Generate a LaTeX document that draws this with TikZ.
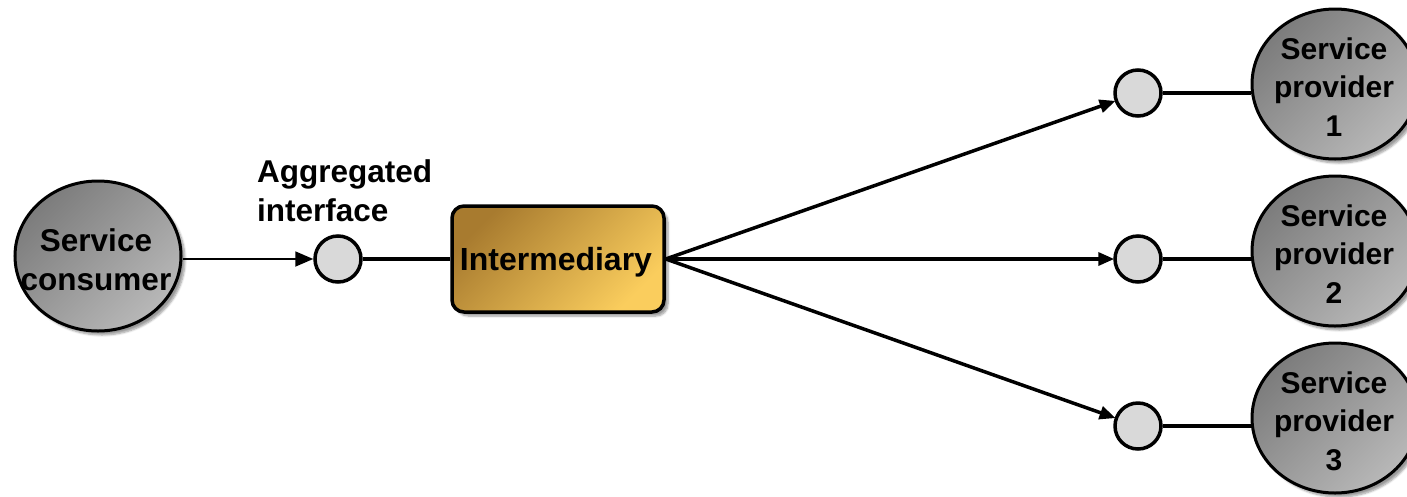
\documentclass[tikz,border=0pt]{standalone}
\usepackage{fontspec}
\setmainfont{Liberation Sans}
\usetikzlibrary{shapes.geometric,arrows.meta,shadows.blur}

\definecolor{ballDark}{HTML}{7C7C7C}
\definecolor{ballLight}{HTML}{B8B8B8}
\definecolor{boxDark}{HTML}{A87B2F}
\definecolor{boxLight}{HTML}{FACD5D}
\definecolor{portFill}{HTML}{D9D9D9}

\tikzset{
  party/.style={ellipse, draw=black, line width=3pt,
    minimum width=166pt, minimum height=150pt, inner sep=0pt,
    top color=ballDark, bottom color=ballLight, shading angle=45,
    blur shadow={shadow xshift=4pt, shadow yshift=-4pt, shadow blur steps=6}},
  partytext/.style={align=center, inner sep=0pt,
    font=\bfseries\fontsize{30}{38.5}\selectfont},
  port/.style={circle, draw=black, line width=3.5pt, fill=portFill,
    minimum size=46pt, inner sep=0pt},
  hub/.style={rectangle, rounded corners=12pt, draw=black, line width=3.5pt,
    minimum width=212pt, minimum height=106pt, inner sep=0pt,
    top color=boxDark, bottom color=boxLight, shading angle=45,
    blur shadow={shadow xshift=4pt, shadow yshift=-4pt, shadow blur steps=6}},
  hubtext/.style={inner sep=0pt, font=\bfseries\fontsize{32}{36}\selectfont},
  caption/.style={align=left, inner sep=0pt,
    font=\bfseries\fontsize{31.5}{39}\selectfont},
  thinlink/.style={line width=1.8pt, -{Triangle[length=18pt,width=15pt]}},
  thicklink/.style={line width=3.5pt},
  fanlink/.style={line width=3.5pt, -{Triangle[length=16pt,width=13pt]}, shorten >=-1pt},
}

\begin{document}
\begin{tikzpicture}[x=1pt,y=-1pt]
  \useasboundingbox (0,0) rectangle (1407,496);

  % consumer side
  \node[party] (cons) at (98,256) {};
  \node[partytext, font=\bfseries\fontsize{31.5}{39}\selectfont] (constxt) at (96,260) {Service\\consumer};
  \node[port] (agg) at (338,259) {};
  \node[caption, anchor=south west] (aggtxt) at (257,222) {Aggregated\\interface};
  \node[hub] (mid) at (558,259) {};
  \node[hubtext] (midtxt) at (556,262) {Intermediary};

  % provider side
  \node[port] (p1) at (1138,93) {};
  \node[port] (p2) at (1138,259) {};
  \node[port] (p3) at (1138,426) {};
  \node[party] (s1) at (1335,84) {};
  \node[party] (s2) at (1335,251) {};
  \node[party] (s3) at (1335,418) {};
  \node[partytext] (s1txt) at (1334,87) {Service\\provider\\1};
  \node[partytext] (s2txt) at (1334,254) {Service\\provider\\2};
  \node[partytext] (s3txt) at (1334,421) {Service\\provider\\3};

  % connectors
  \draw[thinlink] (cons.east |- agg) -- (agg.west);
  \draw[thicklink] (agg.east) -- (mid.west);
  \coordinate (fan) at (mid.east);
  \draw[fanlink] (fan) -- (p1);
  \draw[fanlink] (fan) -- (p2.west);
  \draw[fanlink] (fan) -- (p3);
  \draw[thicklink] (p1.east) -- (p1.east -| s1.west);
  \draw[thicklink] (p2.east) -- (p2.east -| s2.west);
  \draw[thicklink] (p3.east) -- (p3.east -| s3.west);
\end{tikzpicture}
\end{document}
